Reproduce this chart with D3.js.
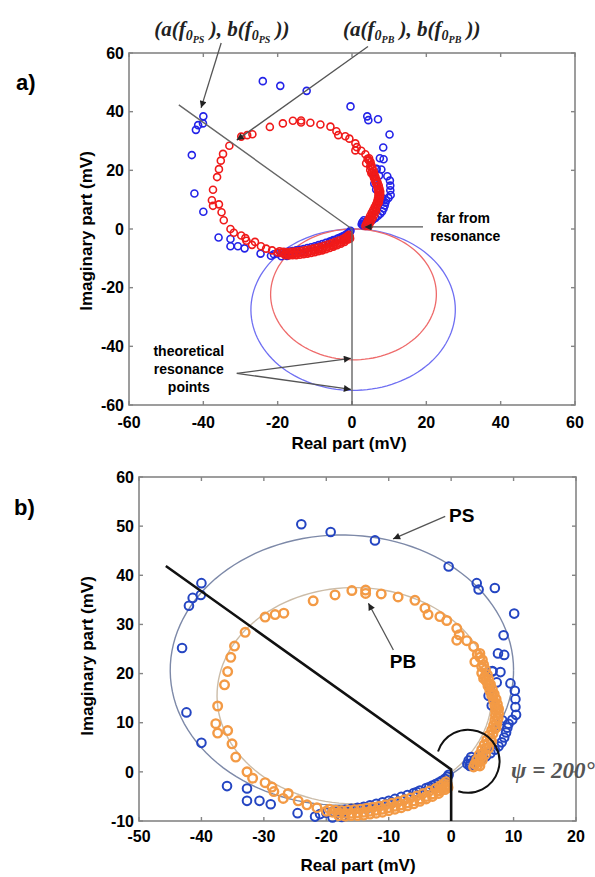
<!DOCTYPE html>
<html>
<head>
<meta charset="utf-8">
<script src="https://cdnjs.cloudflare.com/ajax/libs/d3/7.8.5/d3.min.js"></script>
<style>
body{margin:0;background:#fff;}
svg{display:block;font-family:"Liberation Sans",Arial,sans-serif;}
</style>
</head>
<body>
<svg id="fig" width="595" height="877"></svg>
<script>
/*global d3*/

// measured points, PS (blue) : [real, imaginary] in mV
var psPoints = [
  [-24.0,50.4],[-19.3,48.8],[-12.2,47.1],[-0.4,41.8],[4.1,38.4],[4.4,37.1],[7.0,37.4],[10.1,32.2],
  [8.4,27.8],[7.5,24.1],[6.6,20.5],[7.9,20.3],[7.3,18.2],[9.5,18.0],[10.2,16.5],[10.3,14.8],
  [10.3,13.2],[10.4,11.6],[9.8,10.6],[9.2,9.8],
  [-40.0,38.4],[-41.4,35.4],[-40.1,36.0],[-42.0,33.8],[-43.1,25.2],[-42.4,12.1],[-40.0,5.9],
  [-35.9,-2.9],[-32.7,-3.4],[-32.7,-5.9],[-30.7,-5.9],[-28.9,-6.6],[-24.6,-8.4],[-21.8,-9.1],
  [9.0,9.0],[8.8,8.0],[8.5,7.0],[8.1,6.0],[7.6,5.2],[7.0,4.5],[6.3,3.8],[5.6,3.2],[4.9,2.6],
  [4.2,2.0],[3.6,1.6],[3.1,1.7],[2.8,2.3],[3.2,3.0],[7.8,9.5],[8.2,10.5],[6.5,13.5],[6.0,15.5],
  [6.2,17.0],[8.5,23.8],[6.6,20.4],[3.0,1.2],[3.8,2.5],[4.5,3.2],[2.6,1.6],
  [-21.0,-8.6],[-20.0,-8.3],[-19.0,-8.1],[-18.0,-7.9],[-17.0,-7.7],[-16.0,-7.5],[-15.0,-7.3],
  [-14.0,-7.1],[-13.0,-6.8],[-12.0,-6.5],[-11.0,-6.2],[-10.0,-5.9],[-9.0,-5.5],[-8.0,-5.1],
  [-7.0,-4.7],[-6.0,-4.3],[-5.0,-3.8],[-4.0,-3.3],[-3.0,-2.8],[-2.0,-2.2],[-1.5,-1.8],
  [-1.0,-1.4],[-0.6,-1.0],[-17.5,-8.3],[-13.5,-7.5],[-9.5,-6.2],[-17.5,-9.2],[-19.0,-9.3],
  [-5.5,-4.1],[-3.5,-3.1],[-2.5,-2.5],[-0.4,-0.6]
];

// measured points, PB (red / orange)
var pbPoints = [
  [-15.9,36.9],[-13.7,37.0],[-13.7,36.3],[-18.6,36.0],[-22.1,34.8],[-11.2,36.2],[-8.5,35.6],
  [-5.8,34.9],[-4.2,33.3],[-3.7,32.0],[-1.8,31.6],[-0.7,30.8],[0.9,29.2],[1.3,27.9],[0.9,26.8],
  [2.5,26.7],[3.6,25.5],[4.6,24.1],[3.8,22.4],[4.9,21.4],[4.9,20.1],[5.4,19.4],
  [-26.8,32.3],[-28.2,32.0],[-29.8,31.5],[-33.0,28.4],[-34.7,25.6],[-35.3,23.3],[-35.8,20.4],
  [-36.3,17.7],[-37.4,13.4],[-37.7,9.8],[-37.4,7.9],[-35.8,8.4],[-35.1,5.7],[-34.5,3.0],
  [-32.7,0.0],[-31.8,-1.3],[-29.8,-2.2],[-28.7,-3.1],[-28.4,-4.0],[-26.9,-5.4],[-26.1,-4.4],
  [-24.5,-5.9],[-23.1,-6.7],[-21.5,-7.3],
  [5.6,18.5],[5.9,17.5],[6.2,16.5],[6.5,15.5],[6.8,14.5],[7.0,13.5],[7.1,12.5],[7.1,11.5],
  [7.0,10.5],[6.8,9.5],[6.5,8.5],[6.1,7.5],[5.7,6.5],[5.3,5.5],[4.9,4.5],[4.5,3.5],[4.1,2.5],
  [3.8,1.6],[3.6,1.0],[4.6,1.2],[5.0,2.4],[5.5,3.6],[6.0,4.8],[6.5,6.2],[6.0,18.0],[6.6,16.0],
  [7.3,13.0],[7.5,11.0],[7.2,9.0],[5.2,19.0],
  [4.2,1.3],[4.5,2.0],[4.8,2.9],[5.1,3.8],[5.5,4.8],[5.9,5.8],[6.3,6.8],[6.7,7.8],[7.0,8.8],
  [7.3,9.8],[7.5,10.8],[7.6,11.8],[7.6,12.8],[7.4,13.8],[7.2,14.8],[6.9,15.8],[6.6,16.8],
  [6.3,17.8],[6.0,18.8],[5.8,19.8],[5.5,20.8],[5.2,21.8],[5.0,22.8],[4.6,23.3],[4.2,23.9],
  [-20.0,-8.0],[-19.0,-8.2],[-18.0,-8.3],[-17.0,-8.4],[-16.0,-8.4],[-15.0,-8.3],[-14.0,-8.2],
  [-13.0,-8.0],[-12.0,-7.8],[-11.0,-7.6],[-10.0,-7.3],[-9.0,-7.0],[-8.0,-6.7],[-7.0,-6.3],
  [-6.0,-5.9],[-5.0,-5.5],[-4.0,-5.0],[-3.0,-4.5],[-2.0,-3.9],[-1.5,-3.5],[-1.0,-3.1],[-0.6,-2.6],
  [-19.5,-7.6],[-18.5,-7.8],[-17.5,-7.9],[-16.5,-7.8],[-15.5,-7.7],[-14.5,-7.6],[-13.5,-7.4],
  [-12.5,-7.2],[-11.5,-7.0],[-10.5,-6.7],[-9.5,-6.4],[-8.5,-6.1],[-7.5,-5.7],[-6.5,-5.3],
  [-5.5,-4.9],[-4.5,-4.4],[-3.5,-3.9],[-2.5,-3.4],[-1.8,-2.9],[-1.2,-2.4],[-0.8,-2.0],
  [-18.0,-8.9],[-17.0,-9.0],[-16.0,-8.9],[-15.0,-8.9],[-14.0,-8.8],[-13.0,-8.6],[-12.0,-8.4],
  [-11.0,-8.2],[-10.0,-7.9],[-9.0,-7.6],[-8.0,-7.3],[-7.0,-6.9],[-6.0,-6.5],[-5.0,-6.0],
  [-4.0,-5.5],[-3.0,-5.0],[-2.0,-4.4],[-1.0,-3.6],[-0.5,-3.2]
];

// ticks
var xTicksA = [-60,-40,-20,0,20,40,60];
var yTicksA = [-60,-40,-20,0,20,40,60];
var xTicksB = [-50,-40,-30,-20,-10,0,10,20];
var yTicksB = [-10,0,10,20,30,40,50,60];

// circles [centre real, centre imag, radius] in mV
var theoryPS = [0.3,-27.5,27.5];
var theoryPB = [0.4,-22.3,22.3];
var fitPS = [-17.5,20.7,27.5];
var fitPB = [-15.5,15.5,22.0];

// phase line (a) and (b)
var phaseA = [[-46.6,42.3],[0,0],[0,-60]];
var phaseB = [[-45.7,41.9],[0,0.5],[0,-10]];

var svg = d3.select('#fig');

var defs = svg.append('defs');
defs.append('marker')
    .attr('id','ah')
    .attr('viewBox','0 0 10 10')
    .attr('refX',10).attr('refY',5)
    .attr('markerWidth',9).attr('markerHeight',7)
    .attr('markerUnits','userSpaceOnUse')
    .attr('orient','auto')
  .append('path')
    .attr('d','M0,0L10,5L0,10z')
    .attr('fill','#222');

//scales
var xA = d3.scaleLinear().domain([-60,60]).range([129,575]);
var yA = d3.scaleLinear().domain([-60,60]).range([405,53]);
var xB = d3.scaleLinear().domain([-50,20]).range([139,576]);
var yB = d3.scaleLinear().domain([-10,60]).range([821,477]);

// frame with matlab style ticks on all sides
function drawFrame(g, x, y, xt, yt, xLabY, yLabX){
    var x0 = x.range()[0], x1 = x.range()[1];
    var y0 = y.range()[1], y1 = y.range()[0];
    g.append('rect')
        .attr('x',x0).attr('y',y0)
        .attr('width',x1-x0).attr('height',y1-y0)
        .attr('fill','none').attr('stroke','#858585').attr('stroke-width',1.6);
    xt.forEach(function(t){
        g.append('line').attr('x1',x(t)).attr('x2',x(t)).attr('y1',y1).attr('y2',y1-4)
            .attr('stroke','#858585').attr('stroke-width',1.4);
        g.append('line').attr('x1',x(t)).attr('x2',x(t)).attr('y1',y0).attr('y2',y0+4)
            .attr('stroke','#858585').attr('stroke-width',1.4);
        g.append('text').attr('x',x(t)).attr('y',xLabY)
            .attr('text-anchor','middle').attr('font-size',16).attr('font-weight','bold')
            .text(t);
    });
    yt.forEach(function(t){
        g.append('line').attr('x1',x0).attr('x2',x0+4).attr('y1',y(t)).attr('y2',y(t))
            .attr('stroke','#858585').attr('stroke-width',1.4);
        g.append('line').attr('x1',x1).attr('x2',x1-4).attr('y1',y(t)).attr('y2',y(t))
            .attr('stroke','#858585').attr('stroke-width',1.4);
        g.append('text').attr('x',yLabX).attr('y',y(t)).attr('dy','0.36em')
            .attr('text-anchor','end').attr('font-size',16).attr('font-weight','bold')
            .text(t);
    });
}

function circlePath(x, y, c){
    var line = d3.line().x(d=>x(c[0]+c[2]*Math.cos(d))).y(d=>y(c[1]+c[2]*Math.sin(d)));
    return line(d3.range(0, 2*Math.PI+0.05, 0.05));
}

function scatter(g, x, y, data, color, r, sw){
    g.append('g').selectAll('circle')
        .data(data)
        .enter()
        .append('circle')
            .attr('cx',d=>x(d[0]))
            .attr('cy',d=>y(d[1]))
            .attr('r',r)
            .attr('fill','none')
            .attr('stroke',color)
            .attr('stroke-width',sw);
}

function arrow(g, x, y, from, to){
    g.append('line')
        .attr('x1',x(from[0])).attr('y1',y(from[1]))
        .attr('x2',x(to[0])).attr('y2',y(to[1]))
        .attr('stroke','#555').attr('stroke-width',1.3)
        .attr('marker-end','url(#ah)');
}

function boldText(g, px, py, txt, size, anchor){
    return g.append('text').attr('x',px).attr('y',py)
        .attr('text-anchor',anchor||'middle')
        .attr('font-size',size).attr('font-weight','bold')
        .text(txt);
}

function formula(g, px, py, tag){
    var t = g.append('text').attr('x',px).attr('y',py)
        .attr('text-anchor','middle')
        .attr('font-family','"Liberation Serif",serif')
        .attr('font-style','italic').attr('font-weight','bold')
        .attr('font-size',21)
        .attr('fill','#222');
    t.append('tspan').text('(a(f');
    t.append('tspan').attr('font-size',14).attr('dy',4).text('0');
    t.append('tspan').attr('font-size',10).attr('dy',3).text(tag);
    t.append('tspan').attr('dy',-7).text(' ), b(f');
    t.append('tspan').attr('font-size',14).attr('dy',4).text('0');
    t.append('tspan').attr('font-size',10).attr('dy',3).text(tag);
    t.append('tspan').attr('dy',-7).text(' ))');
}

// ---------- panel a ----------
var gA = svg.append('g');
drawFrame(gA, xA, yA, xTicksA, yTicksA, 428, 124);

gA.append('path').attr('d',circlePath(xA,yA,theoryPS))
    .attr('fill','none').attr('stroke','#6f6ff2').attr('stroke-width',1.3);
gA.append('path').attr('d',circlePath(xA,yA,theoryPB))
    .attr('fill','none').attr('stroke','#ee6a6a').attr('stroke-width',1.3);

scatter(gA, xA, yA, psPoints, '#2323e8', 3.5, 1.6);
scatter(gA, xA, yA, pbPoints, '#f01a1a', 3.5, 1.6);

gA.append('path')
    .attr('d',d3.line().x(d=>xA(d[0])).y(d=>yA(d[1]))(phaseA))
    .attr('fill','none').attr('stroke','#666').attr('stroke-width',1.4);

arrow(gA, xA, yA, [-35.2,63.4], [-40.6,41.3]);
arrow(gA, xA, yA, [4.3,62.2], [-31.0,30.3]);
arrow(gA, xA, yA, [19.1,0.7], [3.4,0.7]);
arrow(gA, xA, yA, [-31,-49.2], [-0.3,-44.1]);
arrow(gA, xA, yA, [-31,-49.2], [-0.3,-54.7]);

formula(gA, xA(-35), yA(65.8), 'PS');
formula(gA, xA(16.1), yA(65.8), 'PB');

boldText(gA, xA(30), yA(2.0), 'far from', 14);
boldText(gA, xA(30.5), yA(-4.1), 'resonance', 14);
boldText(gA, xA(-43.9), yA(-43.3), 'theoretical', 14);
boldText(gA, xA(-43.9), yA(-49.4), 'resonance', 14);
boldText(gA, xA(-43.9), yA(-55.6), 'points', 14);

boldText(gA, 349, 449, 'Real part (mV)', 17);
boldText(gA, 0, 0, 'Imaginary part (mV)', 17)
    .attr('transform','translate(92,231) rotate(-90)');
boldText(gA, 16, 90, 'a)', 22, 'start');

// ---------- panel b ----------
var gB = svg.append('g');
drawFrame(gB, xB, yB, xTicksB, yTicksB, 842, 134);

gB.append('path').attr('d',circlePath(xB,yB,fitPS))
    .attr('fill','none').attr('stroke','#7d89a8').attr('stroke-width',1.4);
gB.append('path').attr('d',circlePath(xB,yB,fitPB))
    .attr('fill','none').attr('stroke','#cbbca8').attr('stroke-width',1.4);

scatter(gB, xB, yB, psPoints, '#2445c2', 4.3, 2);
scatter(gB, xB, yB, pbPoints, '#f39a45', 4.3, 2.4);

gB.append('path')
    .attr('d',d3.line().x(d=>xB(d[0])).y(d=>yB(d[1]))(phaseB))
    .attr('fill','none').attr('stroke','#111').attr('stroke-width',2.6);

// psi arc
var pth = d3.path();
pth.arc(xB(2.7), yB(2.16), 31.5, -162*Math.PI/180, 108*Math.PI/180, false);
gB.append('path').attr('d',pth.toString())
    .attr('fill','none').attr('stroke','#111').attr('stroke-width',2);

gB.append('text')
    .attr('x',xB(9.6)).attr('y',yB(-1.24))
    .attr('font-family','"Liberation Serif",serif')
    .attr('font-style','italic').attr('font-weight','bold')
    .attr('font-size',23).attr('fill','#555')
    .text('\u03c8 = 200\u00b0');

arrow(gB, xB, yB, [-0.95,52.0], [-9.3,47.4]);
arrow(gB, xB, yB, [-9.25,24.8], [-13.25,34.3]);
boldText(gB, xB(-0.34), yB(50.9), 'PS', 19, 'start');
boldText(gB, xB(-7.7), yB(21.1), 'PB', 19);

boldText(gB, 358, 871, 'Real part (mV)', 17);
boldText(gB, 0, 0, 'Imaginary part (mV)', 17)
    .attr('transform','translate(93,656) rotate(-90)');
boldText(gB, 14, 515, 'b)', 22, 'start');
</script>
</body>
</html>
